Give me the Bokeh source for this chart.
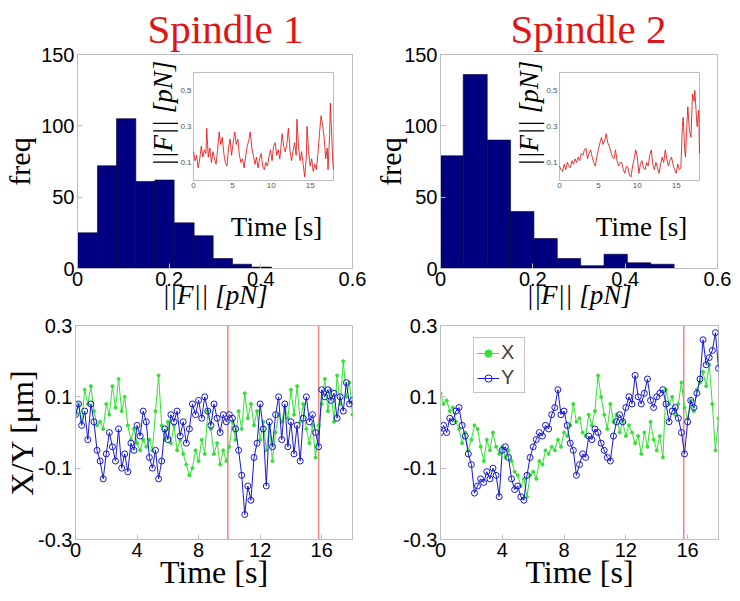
import math
from bokeh.plotting import figure
from bokeh.models import Range1d, FixedTicker, Label, Span, Legend, LegendItem
from bokeh.layouts import row, column
from bokeh.embed import file_html
from bokeh.resources import INLINE

# ---------------- data ----------------
# histograms of |F| (pN)
F1_EDGES = [0, 0.0436, 0.0851, 0.1273, 0.1687, 0.2109, 0.2545, 0.2960, 0.3382, 0.3796, 0.4233]
F1_COUNTS = [25, 72, 105, 61, 62, 32, 23, 7, 3, 1]
F2_EDGES = [0, 0.0492, 0.1012, 0.1518, 0.2024, 0.2530, 0.3036, 0.3542, 0.4048, 0.4554, 0.5060]
F2_COUNTS = [79, 136, 90, 40, 21, 7, 2, 10, 4, 3]

HIST_XTICKS = [0, 0.2, 0.4, 0.6]
HIST_XLABELS = ["0", "0.2", "0.4", "0.6"]
HIST_YTICKS = [0, 50, 100, 150]
HIST_YLABELS = ["0", "50", "100", "150"]

# inset |F|(t) series
IN1_T = [0.0, 0.2, 0.4, 0.6, 0.8, 1.0, 1.2, 1.4, 1.6, 1.7, 1.9, 2.1, 2.3, 2.5, 2.7, 2.9, 3.1, 3.3,
         3.5, 3.7, 3.9, 4.1, 4.3, 4.5, 4.7, 4.9, 5.1, 5.3, 5.5, 5.7, 5.9, 6.1, 6.3, 6.5, 6.7, 6.9,
         7.1, 7.3, 7.5, 7.7, 7.9, 8.1, 8.3, 8.5, 8.7, 8.9, 9.1, 9.3, 9.5, 9.7, 9.9, 10.1, 10.3,
         10.5, 10.7, 10.9, 11.1, 11.4, 11.6, 11.8, 12.0, 12.2, 12.4, 12.6, 12.8, 13.0, 13.2, 13.3,
         13.5, 13.7, 13.9, 14.1, 14.3, 14.5, 14.6, 14.8, 15.0, 15.2, 15.4, 15.6, 15.8, 16.0, 16.2,
         16.4, 16.6, 16.8, 17.0, 17.2, 17.3, 17.5, 17.6, 17.8, 17.9, 18.0]
IN1_F = [0.16, 0.11, 0.14, 0.07, 0.12, 0.19, 0.13, 0.17, 0.15, 0.29, 0.13, 0.18, 0.10, 0.16, 0.12,
         0.09, 0.17, 0.27, 0.20, 0.24, 0.15, 0.10, 0.08, 0.18, 0.23, 0.14, 0.21, 0.27, 0.20, 0.23,
         0.14, 0.10, 0.12, 0.07, 0.13, 0.19, 0.22, 0.27, 0.18, 0.14, 0.09, 0.13, 0.07, 0.12, 0.15,
         0.08, 0.06, 0.10, 0.08, 0.13, 0.17, 0.11, 0.19, 0.21, 0.14, 0.17, 0.12, 0.26, 0.19, 0.16,
         0.20, 0.29, 0.17, 0.11, 0.16, 0.21, 0.14, 0.34, 0.19, 0.11, 0.16, 0.09, 0.02, 0.13, 0.30,
         0.16, 0.08, 0.12, 0.05, 0.09, 0.06, 0.15, 0.26, 0.36, 0.31, 0.24, 0.12, 0.18, 0.06, 0.25,
         0.43, 0.22, 0.11, 0.06]
IN2_T = [0.0, 0.2, 0.4, 0.6, 0.8, 1.0, 1.2, 1.4, 1.6, 1.8, 2.0, 2.2, 2.4, 2.6, 2.8, 3.0, 3.2, 3.4,
         3.6, 3.8, 4.0, 4.2, 4.4, 4.6, 4.8, 5.0, 5.2, 5.4, 5.6, 5.8, 6.0, 6.2, 6.4, 6.6, 6.8, 7.0,
         7.2, 7.4, 7.6, 7.8, 8.0, 8.2, 8.4, 8.6, 8.8, 9.0, 9.2, 9.4, 9.6, 9.8, 10.0, 10.2, 10.4,
         10.6, 10.8, 11.0, 11.2, 11.4, 11.6, 11.8, 12.0, 12.2, 12.4, 12.6, 12.8, 13.0, 13.2, 13.4,
         13.6, 13.8, 14.0, 14.2, 14.4, 14.6, 14.8, 15.0, 15.2, 15.4, 15.6, 15.8, 15.9, 16.1, 16.2,
         16.4, 16.5, 16.7, 16.9, 17.1, 17.3, 17.4, 17.6, 17.7, 17.9, 18.0]
IN2_F = [0.08, 0.06, 0.05, 0.09, 0.06, 0.10, 0.08, 0.07, 0.11, 0.09, 0.12, 0.10, 0.13, 0.11, 0.15,
         0.14, 0.17, 0.18, 0.12, 0.15, 0.17, 0.13, 0.10, 0.08, 0.13, 0.17, 0.21, 0.24, 0.20, 0.22,
         0.26, 0.21, 0.19, 0.16, 0.13, 0.12, 0.17, 0.11, 0.08, 0.10, 0.10, 0.06, 0.04, 0.08, 0.07,
         0.03, 0.02, 0.08, 0.12, 0.17, 0.13, 0.04, 0.09, 0.11, 0.07, 0.06, 0.10, 0.08, 0.14, 0.17,
         0.09, 0.06, 0.10, 0.07, 0.04, 0.09, 0.13, 0.10, 0.17, 0.12, 0.08, 0.11, 0.13, 0.09, 0.06,
         0.04, 0.09, 0.06, 0.07, 0.30, 0.35, 0.17, 0.13, 0.33, 0.41, 0.28, 0.24, 0.48, 0.44, 0.50,
         0.36, 0.30, 0.39, 0.15]
INSET_XTICKS = [0, 5, 10, 15]
INSET_YTICKS = [0.1, 0.3, 0.5]

# X/Y positions (um), sampled every 0.2 s from 0 to 18 s
T_STEP = 0.2
TIME = [round(i * T_STEP, 1) for i in range(91)]
X1 = [0.05, 0.08, 0.03, 0.12, 0.08, 0.13, 0.06, 0.02, 0.03, 0.01,
      0.08, 0.05, 0.13, 0.07, 0.15, 0.06, 0.10, 0.02, -0.02, 0.01,
      -0.03, -0.05, -0.02, -0.04, -0.02, -0.05, 0.06, 0.16, 0.02, -0.02,
      0.03, -0.03, 0.02, -0.05, -0.02, -0.06, -0.09, -0.12, -0.10, -0.05,
      -0.08, -0.02, -0.06, 0.06, 0.01, -0.06, -0.03, -0.09, -0.05, -0.08,
      -0.04, 0.03, -0.02, 0.06, 0.01, 0.11, 0.04, 0.08, 0.02, 0.06,
      -0.02, 0.03, -0.05, 0.02, -0.08, 0.00, 0.05, 0.03, 0.07, 0.04,
      0.12, 0.05, 0.13, 0.03, 0.08, 0.01, -0.03, 0.02, -0.07, 0.02,
      0.08, 0.15, 0.06, 0.12, 0.03, 0.16, 0.08, 0.20, 0.10, 0.14,
      0.05]
Y1 = [0.05, 0.08, 0.02, 0.06, -0.02, 0.08, 0.03, -0.05, -0.08, -0.13,
      -0.06, 0.00, -0.04, -0.08, 0.01, -0.10, -0.06, -0.11, -0.03, -0.05,
      0.02, -0.01, 0.06, 0.03, -0.07, -0.10, -0.05, -0.13, -0.08, 0.01,
      -0.02, 0.05, 0.03, 0.06, -0.01, 0.03, -0.03, 0.01, 0.08, 0.05,
      0.09, 0.04, 0.10, 0.06, 0.02, 0.08, 0.04, 0.00, 0.05, 0.03,
      0.05, 0.04, 0.01, -0.05, -0.12, -0.23, -0.15, -0.19, -0.07, -0.03,
      0.08, 0.01, -0.15, 0.03, -0.04, 0.05, 0.10, -0.02, 0.08, -0.04,
      0.03, -0.06, 0.02, -0.08, 0.04, 0.10, 0.03, 0.05, 0.00, -0.04,
      0.12, 0.10, 0.12, 0.09, 0.11, 0.04, 0.10, 0.06, 0.14, 0.08,
      0.09]
X2 = [0.11, 0.08, 0.09, 0.06, 0.07, 0.03, 0.01, -0.03, 0.00, -0.05,
      -0.02, 0.02, 0.01, -0.04, -0.08, -0.02, -0.05, 0.00, -0.04, -0.06,
      -0.04, -0.07, -0.05, -0.08, -0.11, -0.12, -0.15, -0.13, -0.18, -0.12,
      -0.11, -0.13, -0.08, -0.09, -0.05, -0.06, -0.04, -0.05, -0.02, -0.04,
      0.00, -0.01, 0.02, 0.08, 0.03, 0.04, 0.00, -0.01, 0.05, 0.02,
      0.06, 0.16, 0.10, 0.05, 0.01, 0.08, 0.03, 0.05, 0.00, 0.03,
      -0.01, 0.02, 0.00, -0.03, -0.01, -0.06, 0.00, -0.04, 0.03, -0.02,
      -0.05, -0.01, -0.07, 0.12, 0.08, 0.10, 0.05, 0.08, 0.14, 0.07,
      0.04, 0.09, 0.06, 0.12, 0.14, 0.17, 0.13, 0.19, 0.08, -0.05,
      0.04]
Y2 = [0.00, 0.02, 0.00, 0.04, 0.03, 0.06, 0.07, 0.02, -0.01, -0.06,
      -0.09, -0.17, -0.15, -0.13, -0.14, -0.11, -0.13, -0.10, -0.12, -0.18,
      -0.05, -0.04, -0.07, -0.13, -0.16, -0.15, -0.18, -0.19, -0.12, -0.07,
      -0.04, -0.02, 0.00, -0.01, 0.02, 0.01, 0.05, 0.07, 0.12, 0.05,
      0.06, 0.02, -0.03, -0.05, -0.12, -0.09, -0.06, -0.07, -0.01, -0.02,
      0.01, 0.00, -0.03, -0.05, -0.07, -0.08, -0.01, 0.03, 0.05, 0.03,
      0.07, 0.10, 0.08, 0.16, 0.10, 0.08, 0.11, 0.15, 0.09, 0.07,
      0.10, 0.11, 0.12, 0.08, 0.03, 0.06, 0.07, 0.04, 0.00, -0.06,
      0.03, 0.09, 0.07, 0.11, 0.15, 0.26, 0.19, 0.21, 0.23, 0.28,
      0.18]
EVENTS1 = [9.9, 15.8]
EVENTS2 = [15.75]

TS_XTICKS = [0, 4, 8, 12, 16]
TS_XLABELS = ["0", "4", "8", "12", "16"]
TS_YTICKS = [-0.3, -0.1, 0.1, 0.3]
TS_YLABELS = ["-0.3", "-0.1", "0.1", "0.3"]

# ---------------- style ----------------
SANS = "Liberation Sans"
SERIF = "Liberation Serif"
BOX = "#bcbcbc"
BAR = "#000080"
GREEN = "#33e033"
BLUE = "#1818d0"
RED = "#e01515"
EVENT = "#f08a8a"

TOP_H, BOT_H = 314, 285
COL_W = 369


def make_fig(w, h, xr, yr, l, r, t, b):
    p = figure(width=w, height=h, x_range=Range1d(*xr), y_range=Range1d(*yr),
               output_backend="svg", toolbar_location=None, tools="",
               min_border_left=l, min_border_right=r, min_border_top=t, min_border_bottom=b)
    p.xgrid.visible = False
    p.ygrid.visible = False
    p.outline_line_color = BOX
    p.background_fill_color = "white"
    p.border_fill_color = "white"
    return p


def style_axis(ax, ticks, labels):
    ax.ticker = FixedTicker(ticks=ticks)
    ax.major_label_overrides = {tk: lb for tk, lb in zip(ticks, labels)}
    ax.axis_line_color = BOX
    ax.major_tick_line_color = BOX
    ax.major_tick_in = 5
    ax.major_tick_out = 0
    ax.minor_tick_line_color = None
    ax.major_label_text_font = SANS
    ax.major_label_text_font_size = "20px"
    ax.major_label_text_color = "black"
    ax.major_label_standoff = 3
    ax.axis_label_text_font = SERIF
    ax.axis_label_text_color = "black"
    ax.axis_label_text_font_style = "normal"


def add_text(p, x, y, text, size, angle=0.0, style="normal", baseline="middle"):
    p.add_layout(Label(x=x, y=y, x_units="screen", y_units="screen", text=text,
                       text_font=SERIF, text_font_size=f"{size}px", text_color="black",
                       text_font_style=style, text_align="center", text_baseline=baseline,
                       angle=angle))


def hist_panel(edges, counts, lb, rb, ylab_standoff, inset_x, in_t, in_f, title, it_x, if_x):
    p = make_fig(COL_W, TOP_H, (0, 0.6), (0, 150), lb, rb, 54, 46)
    style_axis(p.xaxis[0], HIST_XTICKS, HIST_XLABELS)
    style_axis(p.yaxis[0], HIST_YTICKS, HIST_YLABELS)
    p.yaxis.axis_label = "freq"
    p.yaxis.axis_label_text_font_size = "30px"
    p.yaxis.axis_label_standoff = ylab_standoff
    p.xaxis.axis_label = "||F|| [pN]"
    p.xaxis.axis_label_text_font_size = "27px"
    p.xaxis.axis_label_text_font_style = "italic"
    p.xaxis.axis_label_standoff = -9
    p.title.text = title
    p.title.text_font = SERIF
    p.title.text_font_size = "41px"
    p.title.text_font_style = "normal"
    p.title.text_color = RED
    p.title.align = "left"
    p.title.offset = 70
    p.title.standoff = 6

    p.quad(left=edges[:-1], right=edges[1:], bottom=0, top=counts,
           fill_color=BAR, line_color="#000030", line_width=0.6)
    sub = p.subplot(x_source=Range1d(0, 18), y_source=Range1d(0, 0.6),
                    x_target=Range1d(*inset_x), y_target=Range1d(61.7, 137.4))
    sub.quad(left=[0], right=[18], bottom=[0], top=[0.6],
             fill_color="white", line_color=BOX, line_width=1)
    sub.line(in_t, in_f, line_color=RED, line_width=1, line_alpha=0.85)
    sub.text(x=INSET_XTICKS, y=[0] * len(INSET_XTICKS), text=[str(v) for v in INSET_XTICKS],
             text_font_size="8px", text_color="#555555", text_align="center",
             text_baseline="top", y_offset=3)
    sub.text(x=[0] * len(INSET_YTICKS), y=INSET_YTICKS, text=[str(v) for v in INSET_YTICKS],
             text_font_size="8px", text_color="#555555", text_align="right",
             text_baseline="middle", x_offset=-2)
    add_text(p, it_x, 42, "Time [s]", 27, baseline="alphabetic")
    add_text(p, if_x, 155, "||F|| [pN]", 27, style="italic", angle=math.pi / 2)
    return p


def ts_panel(xs, ys, events, lb, rb, ylabel):
    p = make_fig(COL_W, BOT_H, (0, 18), (-0.3, 0.3), lb, rb, 11, 60)
    style_axis(p.xaxis[0], TS_XTICKS, TS_XLABELS)
    style_axis(p.yaxis[0], TS_YTICKS, TS_YLABELS)
    p.xaxis.axis_label = "Time [s]"
    p.xaxis.axis_label_text_font_size = "32px"
    p.xaxis.axis_label_standoff = -6
    if ylabel:
        p.yaxis.axis_label = "X/Y [μm]"
        p.yaxis.axis_label_text_font_size = "32px"
        p.yaxis.axis_label_standoff = -5
    for ev in events:
        p.add_layout(Span(location=ev, dimension="height", line_color=EVENT,
                          line_width=1.6, level="underlay"))
    gl = p.line(TIME, xs, line_color=GREEN, line_width=1)
    gm = p.scatter(TIME, xs, marker="circle", size=3, line_color=GREEN, fill_color=GREEN)
    bl = p.line(TIME, ys, line_color=BLUE, line_width=1)
    bm = p.scatter(TIME, ys, marker="circle", size=6, line_color=BLUE, fill_alpha=0, line_width=1)
    return p, (gl, gm, bl, bm)


p1 = hist_panel(F1_EDGES, F1_COUNTS, 77, 17, 2, (0.2531, 0.5585), IN1_T, IN1_F, "Spindle 1", 199, 85)
p2 = hist_panel(F2_EDGES, F2_COUNTS, 71, 21, -6, (0.2578, 0.5610), IN2_T, IN2_F, "Spindle 2", 201, 88)
p3, _ = ts_panel(X1, Y1, EVENTS1, 75, 17, True)
p4, (gl, gm, bl, bm) = ts_panel(X2, Y2, EVENTS2, 71, 20, False)

legend = Legend(items=[LegendItem(label="X", renderers=[gl, gm]),
                       LegendItem(label="Y", renderers=[bl, bm])],
                location=(33, 146))
legend.label_text_font = SANS
legend.label_text_font_size = "20px"
legend.label_standoff = 2
legend.glyph_width = 22
legend.glyph_height = 18
legend.label_height = 18
legend.padding = 3
legend.spacing = 2
legend.margin = 0
legend.border_line_color = "#888888"
legend.background_fill_color = "white"
p4.add_layout(legend)

layout = column(row(p1, p2), row(p3, p4))

with open("out.html", "w") as f:
    f.write(file_html(layout, INLINE))
